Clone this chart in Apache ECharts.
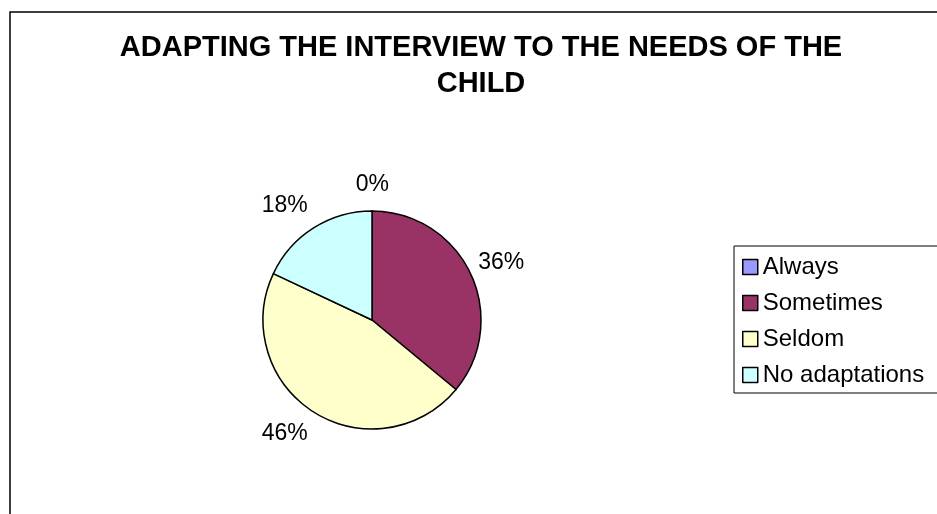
<!DOCTYPE html>
<html><head><meta charset="utf-8">
<script src="https://cdn.jsdelivr.net/npm/echarts@6/dist/echarts.min.js"></script>
<style>html,body{margin:0;padding:0;background:#fff}#c{width:937px;height:514px}</style>
</head><body><div id="c"></div>
<script>
const titleLines = ['ADAPTING THE INTERVIEW TO THE NEEDS OF THE', 'CHILD'];
const categories = ['Always', 'Sometimes', 'Seldom', 'No adaptations'];
const values = [0, 36, 46, 18];
const colors = ['#9999FF', '#993366', '#FFFFCC', '#CCFFFF'];
const labelShift = [-17, -16, -8, -8];

const chart = echarts.init(document.getElementById('c'), null, {renderer: 'canvas'});
chart.setOption({
  animation: false,
  backgroundColor: '#fff',
  graphic: [{
    type: 'rect', shape: {x: 10, y: 12, width: 960, height: 540},
    style: {fill: 'none', stroke: '#000', lineWidth: 1.5}, silent: true, z: -1
  }],
  title: {
    text: titleLines.join('\n'), left: 476, top: 25, textAlign: 'center',
    textStyle: {fontFamily: 'Liberation Sans, Arial', fontWeight: 'bold', fontSize: 29, lineHeight: 36, color: '#000'}
  },
  legend: {
    orient: 'vertical', left: 734, top: 246, icon: 'rect', itemWidth: 15, itemHeight: 15, itemGap: 12,
    padding: [9, 40, 6, 8], borderColor: '#000', borderWidth: 1,
    textStyle: {fontFamily: 'Liberation Sans, Arial', fontSize: 24, color: '#000'},
    itemStyle: {borderColor: '#000', borderWidth: 1.5},
    data: categories
  },
  series: [{
    type: 'pie', center: [372, 320], radius: 109, startAngle: 90, clockwise: true,
    avoidLabelOverlap: false, minShowLabelAngle: 0,
    itemStyle: {borderColor: '#000', borderWidth: 1.5},
    label: {show: true, position: 'outside', formatter: '{d}%', fontFamily: 'Liberation Sans, Arial', fontSize: 23, color: '#000'},
    labelLine: {show: false, length: 26, length2: 0},
    data: categories.map((c, i) => ({name: c, value: values[i], itemStyle: {color: colors[i]}, label: {distanceToLabelLine: labelShift[i]}}))
  }]
});
</script></body></html>
